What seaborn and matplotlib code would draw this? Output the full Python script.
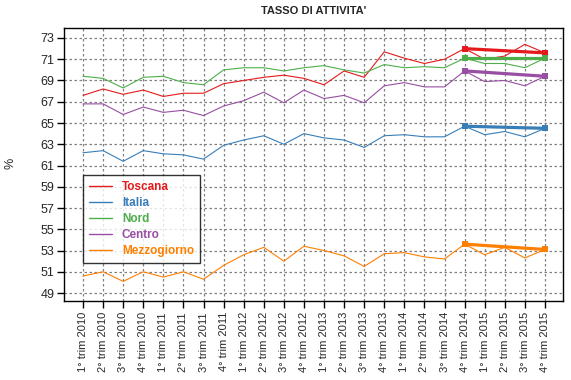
import matplotlib
matplotlib.use("Agg")
import matplotlib.pyplot as plt
import seaborn as sns
import pandas as pd
import numpy as np

quarters = ["1° trim 2010", "2° trim 2010", "3° trim 2010", "4° trim 2010",
            "1° trim 2011", "2° trim 2011", "3° trim 2011", "4° trim 2011",
            "1° trim 2012", "2° trim 2012", "3° trim 2012", "4° trim 2012",
            "1° trim 2013", "2° trim 2013", "3° trim 2013", "4° trim 2013",
            "1° trim 2014", "2° trim 2014", "3° trim 2014", "4° trim 2014",
            "1° trim 2015", "2° trim 2015", "3° trim 2015", "4° trim 2015"]

toscana = [67.6, 68.2, 67.7, 68.1, 67.5, 67.8, 67.8, 68.7, 69.0, 69.3, 69.5, 69.2,
           68.6, 69.9, 69.3, 71.7, 71.1, 70.6, 71.0, 72.0, 71.0, 71.3, 72.4, 71.6]
italia = [62.2, 62.4, 61.4, 62.4, 62.1, 62.0, 61.6, 62.9, 63.4, 63.8, 63.0, 64.0,
          63.6, 63.4, 62.7, 63.8, 63.9, 63.7, 63.7, 64.7, 63.9, 64.2, 63.7, 64.5]
nord = [69.4, 69.2, 68.3, 69.3, 69.4, 68.8, 68.6, 70.0, 70.2, 70.2, 69.9, 70.2,
        70.4, 70.0, 69.7, 70.5, 70.2, 70.3, 70.2, 71.1, 70.6, 70.6, 70.2, 71.1]
centro = [66.8, 66.8, 65.8, 66.5, 66.0, 66.2, 65.7, 66.6, 67.1, 67.9, 66.9, 68.1,
          67.3, 67.6, 66.9, 68.5, 68.8, 68.4, 68.4, 69.9, 68.9, 69.0, 68.5, 69.4]
mezzogiorno = [50.6, 51.0, 50.1, 51.0, 50.5, 51.0, 50.3, 51.6, 52.6, 53.3, 52.0, 53.4,
               53.0, 52.5, 51.5, 52.7, 52.8, 52.4, 52.2, 53.6, 52.6, 53.3, 52.3, 53.1]

series_names = ["Toscana", "Italia", "Nord", "Centro", "Mezzogiorno"]
series_values = [toscana, italia, nord, centro, mezzogiorno]
colors = ["#E41A1C", "#377EB8", "#4DAF4A", "#984EA3", "#FF7F00"]
y_ticks = [49, 51, 53, 55, 57, 59, 61, 63, 65, 67, 69, 71, 73]
trend_start = "4° trim 2014"
trend_end = "4° trim 2015"

sns.set_style("white")
plt.rcParams["font.family"] = ["Liberation Sans", "DejaVu Sans"]

rows = []
for name, vals in zip(series_names, series_values):
    for i, (q, v) in enumerate(zip(quarters, vals)):
        rows.append({"pos": i, "trim": q, "serie": name, "valore": v})
df = pd.DataFrame(rows)

i0, i1 = quarters.index(trend_start), quarters.index(trend_end)
trend = df[df["pos"].isin([i0, i1])]

palette = dict(zip(series_names, colors))

fig = plt.figure(figsize=(5.71, 3.80), dpi=100)
ax = fig.add_axes([64/571, 1-301/380, (563-64)/571, (301-28)/380])

sns.lineplot(data=df, x="pos", y="valore", hue="serie", palette=palette,
             hue_order=series_names, linewidth=0.8, ax=ax, legend=True, sort=True, zorder=3)
sns.lineplot(data=trend, x="pos", y="valore", hue="serie", palette=palette,
             hue_order=series_names, linewidth=2.3, marker="s", markersize=4.5,
             markeredgewidth=0, ax=ax, legend=False, zorder=4)

ax.set_xlim(-0.946, 23.9)
ax.set_ylim(48.25, 73.94)
ax.set_xticks(range(len(quarters)))
ax.set_xticklabels(quarters, rotation=90, fontsize=8)
ax.set_yticks(y_ticks)
ax.set_yticklabels([str(t) for t in y_ticks], fontsize=9)
ax.tick_params(axis="both", direction="out", length=5, width=1, color="black", pad=2,
               bottom=True, left=True)
ax.tick_params(axis="x", pad=3)
ax.grid(True, color="#808080", linestyle=(0, (2, 2)), linewidth=0.9)
for s in ax.spines.values():
    s.set_color("black")
    s.set_linewidth(1)
ax.set_xlabel("")
ax.set_ylabel("%", fontsize=9)
ax.yaxis.set_label_coords(-0.096, 0.505)
ax.set_title("TASSO DI ATTIVITA'", fontsize=8, fontweight="bold", pad=10)

handles, labels = ax.get_legend_handles_labels()
leg = ax.legend(handles, labels, loc="upper left", bbox_to_anchor=(0.038, 0.4615),
                borderaxespad=0, frameon=True, fancybox=False,
                handlelength=2.0, handletextpad=0.8, labelspacing=0.35,
                borderpad=0.5, prop={"weight": "bold", "size": 8.5})
leg.get_frame().set_edgecolor("black")
leg.get_frame().set_linewidth(1)
for t, c in zip(leg.get_texts(), colors):
    t.set_color(c)
for h in leg.get_lines():
    h.set_linewidth(1)

fig.savefig("out.png", dpi=100)
